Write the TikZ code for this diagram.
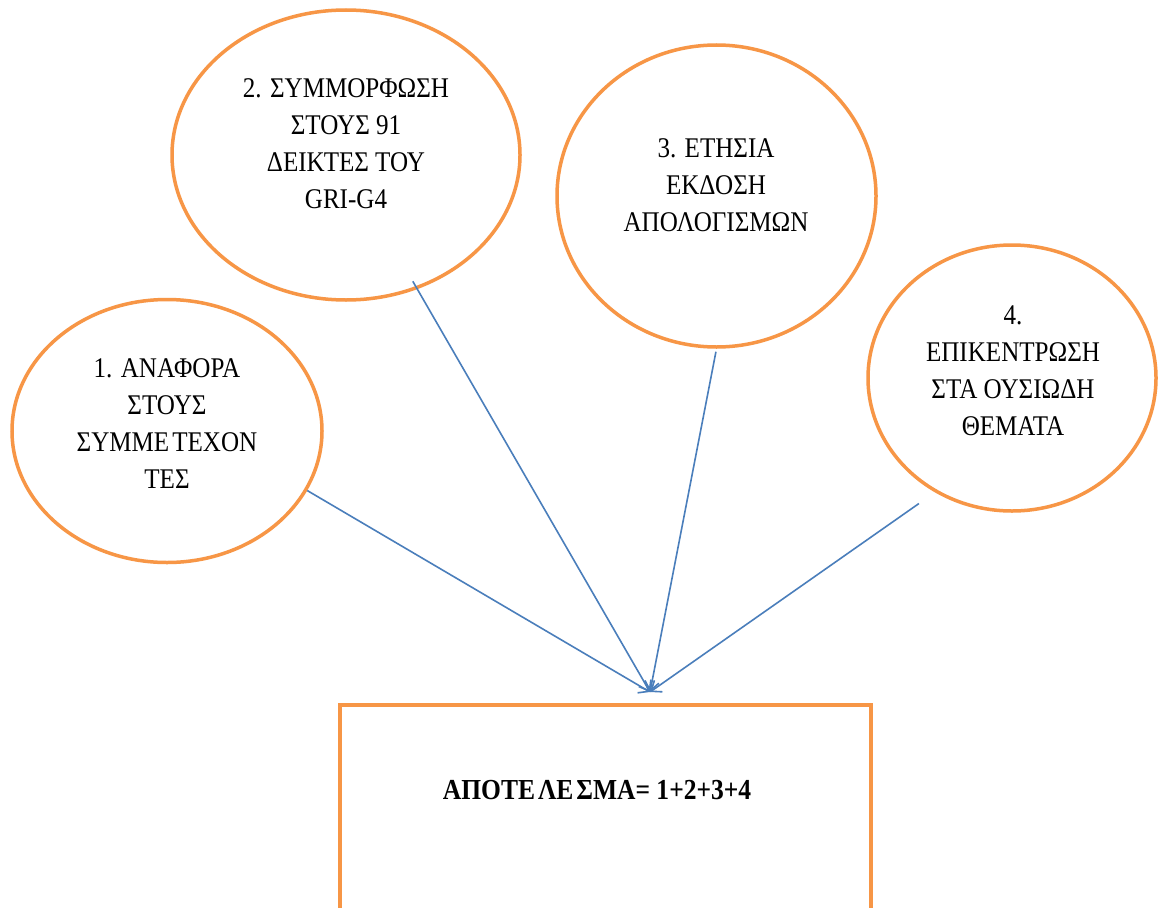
\documentclass[tikz,border=0pt]{standalone}
\usepackage{fontspec}
\setmainfont{Liberation Serif}[FakeStretch=0.88]
\usetikzlibrary{shapes.geometric,arrows.meta}
\definecolor{orng}{HTML}{F79646}
\definecolor{blu}{HTML}{4A7EBB}
\begin{document}
\begin{tikzpicture}[x=1pt,y=-1pt,
  bubble/.style={ellipse,draw=orng,line width=3.5pt,inner sep=0pt},
  txt/.style={align=center,inner sep=0pt,font=\fontsize{28.5}{37}\selectfont},
  conn/.style={draw=blu,line width=1.6pt,-{Straight Barb[length=9pt,width=14pt]}}]
\clip (0,0) rectangle (1158,907);
\fill[white] (0,0) rectangle (1158,907);
\node[bubble,minimum width=310pt,minimum height=263pt] (e1) at (167,431) {};
\node[bubble,minimum width=348pt,minimum height=290pt] (e2) at (346,155) {};
\node[bubble,minimum width=319pt,minimum height=302pt] (e3) at (716.5,196) {};
\node[bubble,minimum width=288pt,minimum height=266pt] (e4) at (1012,378) {};
\node[draw=orng,line width=3.5pt,rectangle,inner sep=0pt,minimum width=531pt,minimum height=240pt,anchor=north west] (res) at (338,703) {};
\node[txt] (t1) at (167,424) {1. ΑΝΑΦΟΡΑ\\ΣΤΟΥΣ\\ΣΥΜΜΕ\kern3pt ΤΕΧΟΝ\\ΤΕΣ};
\node[txt] (t2) at (346,144) {2. ΣΥΜΜΟΡΦΩΣΗ\\ΣΤΟΥΣ 91\\ΔΕΙΚΤΕΣ ΤΟΥ\\GRI-G4};
\node[txt] (t3) at (716,185) {3. ΕΤΗΣΙΑ\\ΕΚΔΟΣΗ\\ΑΠΟΛΟΓΙΣΜΩΝ};
\node[txt] (t4) at (1013,371) {4.\\ΕΠΙΚΕΝΤΡΩΣΗ\\ΣΤΑ ΟΥΣΙΩΔΗ\\ΘΕΜΑΤΑ};
\node[txt,font=\fontsize{29}{37}\selectfont\bfseries] (rt) at (597,790) {ΑΠΟΤΕ\kern3pt ΛΕ\kern3pt ΣΜΑ= 1+2+3+4};
\coordinate (tip) at (650,692);
\draw[conn] (e1.-23.3) -- (tip);
\draw[conn,shorten <=-9pt] (e2.-62) -- (tip);
\draw[conn,shorten <=3pt] (e3.south) -- (tip);
\draw[conn,shorten <=19.5pt] (e4.-124) -- (tip);
\end{tikzpicture}
\end{document}
